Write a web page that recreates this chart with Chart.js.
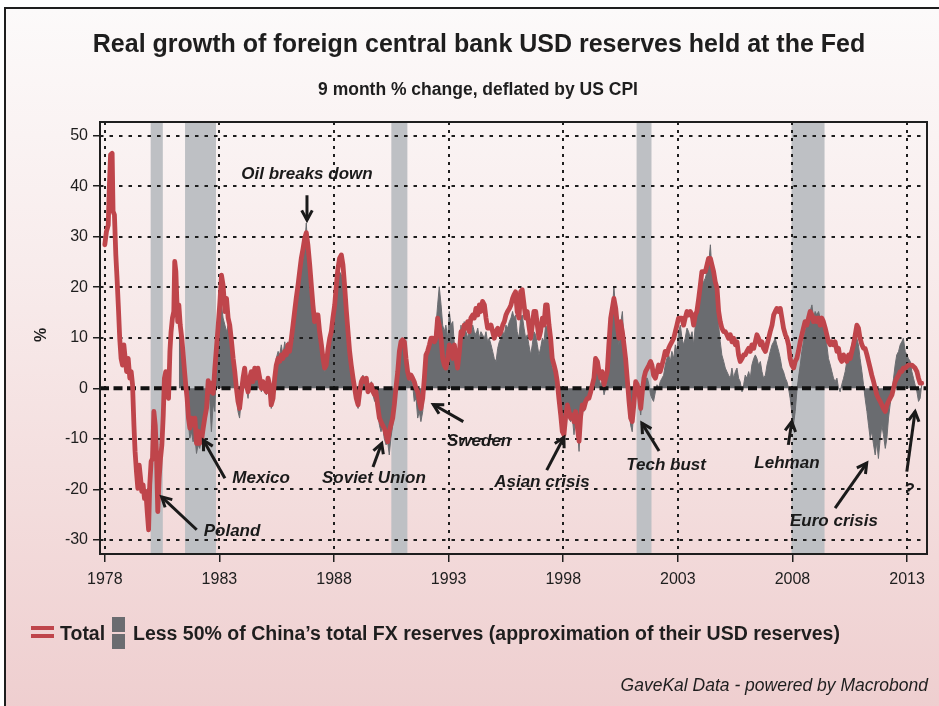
<!DOCTYPE html>
<html>
<head>
<meta charset="utf-8">
<script src="https://cdn.jsdelivr.net/npm/chart.js@4.4.1/dist/chart.umd.min.js"></script>
<style>
  html, body { margin: 0; padding: 0; background: #fff; }
  #page { position: relative; width: 939px; height: 706px; overflow: hidden; background: #fff;
          font-family: "Liberation Sans", Arial, sans-serif; color: #1e1e1e; }
  #frame { position: absolute; left: 4px; top: 7px; width: 960px; height: 720px;
           border: 2px solid #1e1e1e;
           background: linear-gradient(to bottom, #fcfafa 0%, #f8ecec 35%, #f3dcdc 70%, #eecdce 100%); }
  #c { position: absolute; left: 0; top: 0; }
  .txt { position: absolute; white-space: nowrap; }
  #title { left: 0; width: 958px; top: 29px; text-align: center; font-weight: bold; font-size: 25px; line-height: 29px; }
  #subtitle { left: 0; width: 956px; top: 79px; text-align: center; font-weight: bold; font-size: 17.5px; line-height: 20px; }
  #ylab { left: 34px; top: 326px; font-weight: bold; font-size: 16px; line-height: 18px; transform: rotate(-90deg); }
  .bar { position: absolute; }
  #legTotal { left: 60px; top: 622px; font-weight: bold; font-size: 19.5px; line-height: 22px; }
  #legEx { left: 133px; top: 622px; font-weight: bold; font-size: 19.5px; line-height: 22px; }
  #source { right: 11px; top: 675px; font-style: italic; font-size: 17.5px; line-height: 20px; }
</style>
</head>
<body>
<div id="page">
  <div id="frame"></div>
  <canvas id="c" width="939" height="706"></canvas>
  <div class="txt" id="title">Real growth of foreign central bank USD reserves held at the Fed</div>
  <div class="txt" id="subtitle">9 month % change, deflated by US CPI</div>
  <div class="txt" id="ylab">%</div>
  <div class="bar" style="left:31px;top:626px;width:23px;height:4px;background:#bf454b"></div>
  <div class="bar" style="left:31px;top:634px;width:23px;height:4px;background:#bf454b"></div>
  <div class="txt" id="legTotal">Total</div>
  <div class="bar" style="left:112px;top:617px;width:13px;height:15px;background:#6a6c70"></div>
  <div class="bar" style="left:112px;top:634px;width:13px;height:15px;background:#6a6c70"></div>
  <div class="txt" id="legEx">Less 50% of China’s total FX reserves (approximation of their USD reserves)</div>
  <div class="txt" id="source">GaveKal Data - powered by Macrobond</div>
</div>
<script>
// Observation dates (decimal years)
const dates = [
  1978.00,1978.07,1978.15,1978.19,1978.25,1978.32,1978.36,1978.42,1978.48,1978.54,
  1978.60,1978.65,1978.71,1978.77,1978.83,1978.89,1978.95,1979.02,1979.09,1979.15,
  1979.21,1979.27,1979.32,1979.38,1979.44,1979.50,1979.56,1979.61,1979.67,1979.73,
  1979.79,1979.85,1979.91,1979.96,1980.02,1980.08,1980.14,1980.20,1980.25,1980.31,
  1980.37,1980.43,1980.49,1980.55,1980.60,1980.66,1980.72,1980.78,1980.84,1980.89,
  1980.95,1981.01,1981.05,1981.10,1981.14,1981.18,
  1981.23,1981.29,1981.36,1981.42,1981.48,1981.53,1981.59,1981.65,1981.71,1981.78,
  1981.85,1981.93,1982.00,1982.07,1982.14,1982.22,1982.29,1982.36,1982.44,1982.51,
  1982.58,1982.65,1982.73,1982.80,1982.87,1982.94,1983.02,1983.09,1983.16,1983.24,
  1983.31,1983.38,1983.45,1983.53,1983.60,1983.67,1983.74,
  1983.81,1983.88,1983.96,1984.03,1984.10,1984.17,1984.25,1984.32,1984.39,1984.46,
  1984.54,1984.61,1984.68,1984.76,1984.83,1984.90,1984.97,1985.05,1985.12,1985.19,
  1985.26,1985.34,1985.41,1985.48,1985.56,1985.63,1985.70,1985.77,1985.85,1985.92,
  1985.99,1986.06,1986.14,1986.21,1986.28,1986.35,1986.43,1986.50,1986.57,1986.65,
  1986.72,1986.79,1986.86,1986.94,1987.01,1987.08,1987.15,1987.23,1987.30,1987.37,
  1987.45,1987.52,1987.59,1987.66,1987.74,1987.81,1987.88,1987.95,1988.03,1988.10,
  1988.17,1988.24,1988.32,1988.39,1988.46,1988.54,1988.61,1988.68,1988.75,1988.83,
  1988.90,1988.97,1989.05,1989.12,1989.19,1989.26,1989.34,1989.41,1989.48,1989.55,
  1989.63,1989.70,1989.77,
  1989.83,1989.90,1989.98,1990.05,1990.12,1990.19,1990.27,1990.34,1990.41,1990.48,
  1990.56,1990.63,1990.70,1990.78,1990.85,1990.92,1990.99,1991.07,1991.14,1991.21,
  1991.28,1991.36,1991.43,1991.50,1991.58,1991.65,1991.72,1991.79,1991.87,1991.94,
  1992.01,1992.08,1992.16,1992.23,1992.30,1992.38,1992.45,1992.52,1992.59,1992.67,
  1992.74,1992.81,1992.88,1992.96,1993.03,1993.10,1993.18,1993.25,1993.32,1993.39,
  1993.47,1993.54,1993.61,1993.68,1993.76,1993.83,1993.90,1993.97,1994.05,1994.12,
  1994.19,1994.27,1994.34,1994.41,1994.48,1994.56,1994.63,1994.70,1994.77,1994.85,
  1994.92,1994.99,1995.07,1995.14,1995.21,1995.28,1995.36,1995.43,1995.50,1995.57,
  1995.65,1995.72,1995.79,
  1995.85,1995.92,1995.99,1996.07,1996.14,1996.21,1996.29,1996.36,1996.43,1996.50,
  1996.58,1996.65,1996.72,1996.80,1996.87,1996.94,1997.01,1997.09,1997.16,1997.23,
  1997.30,1997.38,1997.45,1997.52,1997.60,1997.67,1997.74,1997.81,1997.89,1997.96,
  1998.03,1998.10,1998.18,1998.25,1998.32,1998.40,1998.47,1998.54,1998.61,1998.69,
  1998.76,1998.83,1998.90,1998.98,1999.05,1999.12,1999.20,1999.27,1999.34,1999.41,
  1999.49,1999.56,1999.63,1999.70,1999.78,1999.85,1999.92,1999.99,2000.07,2000.14,
  2000.21,2000.29,2000.36,2000.43,2000.50,2000.58,2000.65,2000.72,2000.79,2000.87,
  2000.94,2001.01,2001.08,2001.16,2001.23,2001.30,2001.38,2001.45,2001.52,2001.59,
  2001.67,2001.74,2001.81,
  2001.87,2001.94,2002.02,2002.09,2002.16,2002.23,2002.31,2002.38,2002.45,2002.52,
  2002.60,2002.67,2002.74,2002.82,2002.89,2002.96,2003.03,2003.11,2003.18,2003.25,
  2003.32,2003.40,2003.47,2003.54,2003.62,2003.69,2003.76,2003.83,2003.91,2003.98,
  2004.05,2004.12,2004.20,2004.27,2004.34,2004.42,2004.49,2004.56,2004.63,2004.71,
  2004.78,2004.85,2004.92,2005.00,2005.07,2005.14,2005.21,2005.29,2005.36,2005.43,
  2005.51,2005.58,2005.65,2005.72,2005.80,2005.87,2005.94,2006.01,2006.09,2006.16,
  2006.23,2006.31,2006.38,2006.45,2006.52,2006.60,2006.67,2006.74,2006.82,2006.89,
  2006.96,2007.03,2007.11,2007.18,2007.25,2007.32,2007.40,2007.47,2007.54,2007.61,
  2007.69,2007.76,2007.83,
  2007.90,2007.97,2008.05,2008.12,2008.19,2008.26,2008.34,2008.41,2008.48,2008.55,
  2008.63,2008.70,2008.77,2008.85,2008.92,2008.99,2009.06,2009.14,2009.21,2009.28,
  2009.35,2009.43,2009.50,2009.57,2009.65,2009.72,2009.79,2009.86,2009.94,2010.01,
  2010.08,2010.15,2010.23,2010.30,2010.37,2010.45,2010.52,2010.59,2010.66,2010.74,
  2010.81,2010.88,2010.95,2011.03,2011.10,2011.17,2011.25,2011.32,2011.39,2011.46,
  2011.54,2011.61,2011.68,2011.75,2011.83,2011.90,2011.97,2012.05,2012.12,2012.19,
  2012.26,2012.34,2012.41,2012.48,2012.55,2012.63,2012.70,2012.77,2012.84,2012.92,
  2012.99,2013.06,2013.14,2013.21,2013.28,2013.35,2013.43,2013.50,2013.57,2013.64
];

// Total foreign official USD holdings, real 9m % change
const total = [
  28.4,31.0,32.3,38.9,46.2,46.5,35.0,34.3,26.4,21.1,
  15.2,9.9,5.9,4.6,8.6,5.9,3.3,5.9,2.0,3.3,
  0.7,-7.3,-12.5,-16.5,-19.8,-15.2,-17.8,-20.4,-19.1,-21.8,
  -20.4,-24.4,-28.0,-19.1,-14.5,-13.9,-4.6,-7.3,-12.5,-24.4,
  -17.8,-13.9,-11.2,-5.3,2.0,3.3,-0.7,-2.0,7.3,11.2,
  13.9,15.2,25.1,23.1,17.8,13.2,
  16.5,12.5,9.9,6.6,3.3,0.7,-2.0,-5.9,-7.9,-5.9,
  -7.3,-5.9,-10.9,-8.5,-10.9,-10.3,-8.0,-5.9,-3.9,1.5,
  -0.7,1.0,-1.0,4.0,8.0,12.0,17.0,22.4,20.4,15.2,
  17.8,13.9,12.5,9.2,5.9,3.3,0.0,
  -2.6,-4.0,-0.7,2.0,4.0,0.7,-0.7,2.0,3.3,1.3,
  4.0,2.0,4.0,2.0,0.0,1.3,0.0,-0.7,2.0,0.7,
  -3.3,-2.0,2.0,4.6,5.9,5.3,6.6,5.9,7.3,6.6,
  8.6,7.3,9.9,12.5,15.2,17.8,20.4,23.1,25.7,27.7,
  29.7,30.8,28.4,24.4,20.4,16.5,13.2,14.5,14.5,11.2,
  8.6,5.9,4.0,4.6,7.9,9.9,11.2,13.9,16.5,20.4,
  23.7,25.7,26.4,24.4,20.4,15.2,11.2,7.3,4.6,2.0,
  0.0,-2.0,-3.3,-0.7,1.3,2.0,1.3,2.0,-0.7,0.0,
  0.7,-0.7,-1.3,
  -0.7,-3.3,-5.9,-6.6,-7.3,-7.9,-9.2,-10.6,-8.6,-7.3,
  -5.9,-3.3,0.0,3.3,7.3,9.2,9.6,9.2,5.9,3.3,
  2.0,2.6,2.0,1.3,0.0,-0.7,-2.6,-4.0,-2.0,2.0,
  6.6,7.3,8.6,9.9,9.9,9.2,9.9,13.9,12.5,9.9,
  5.9,4.6,4.0,5.9,8.6,7.3,5.9,8.6,5.9,4.0,
  7.3,11.2,10.6,12.5,11.9,13.2,11.2,13.9,14.5,13.9,
  15.8,14.5,16.5,15.2,17.2,16.5,13.9,11.9,11.9,12.5,
  11.2,9.9,11.2,11.9,10.6,11.2,12.5,13.2,14.5,15.2,
  15.8,16.5,17.8,
  18.5,19.1,15.2,13.9,19.1,19.5,16.5,13.9,15.2,12.5,
  9.9,12.5,15.2,15.2,12.5,9.9,11.2,13.9,12.5,16.5,
  16.5,12.5,9.9,5.9,4.6,3.3,1.3,-2.0,-5.3,-8.6,
  -9.2,-5.9,-3.3,-4.6,-5.9,-5.3,-6.6,-4.6,-7.5,-10.5,
  -5.5,-3.3,-4.0,-2.6,-2.0,-2.0,-0.7,0.7,2.0,5.9,
  5.3,3.3,2.0,3.3,0.7,2.0,3.3,8.6,13.9,15.8,
  17.8,15.8,12.5,9.9,13.2,11.2,8.6,5.9,2.0,-2.6,
  -5.9,-6.6,-3.3,1.3,0.7,-0.7,-4.0,-0.7,2.0,3.3,
  4.0,4.6,5.3,
  4.6,2.6,2.0,3.3,4.6,3.3,4.6,5.9,7.3,6.6,
  7.9,8.6,9.2,9.9,11.2,12.5,13.9,13.9,13.9,12.5,
  13.9,15.2,14.5,15.2,14.5,12.5,14.5,15.2,17.8,20.4,
  23.1,23.1,23.1,24.4,25.7,25.7,24.4,23.1,21.1,19.8,
  15.2,13.2,11.9,11.2,11.2,10.6,9.9,10.6,9.2,9.9,
  8.6,9.2,6.6,5.3,5.9,6.6,6.6,7.3,7.9,7.3,
  8.6,7.9,9.2,10.6,9.9,8.6,9.2,7.9,7.3,8.6,
  9.9,11.2,12.5,14.5,15.2,15.8,15.2,15.8,13.9,11.9,
  10.6,9.9,8.6,
  5.9,4.6,4.0,5.3,5.9,7.3,9.2,10.6,11.9,13.2,
  12.5,13.9,15.2,14.5,13.2,13.9,13.2,13.9,12.5,13.9,
  13.2,11.9,10.6,9.2,8.6,9.2,8.6,9.2,7.3,7.9,
  5.9,5.3,6.6,5.9,5.3,6.6,5.9,7.3,8.6,10.6,
  12.5,11.9,9.9,8.6,7.9,7.9,6.6,5.3,4.0,2.6,
  1.3,0.0,-1.3,-2.0,-2.6,-3.3,-4.0,-4.6,-3.3,-2.6,
  -2.0,-1.3,0.0,1.3,2.0,2.6,3.3,3.3,4.0,4.0,
  4.3,4.6,4.6,4.6,4.3,4.0,3.3,2.0,1.0,1.0
];

// Total less 50% of China's FX reserves; series begins at this date
const exChinaFirstDate = 1981.23;
const exChina = [
  16.0,14.5,11.2,6.6,2.0,-0.7,-4.6,-7.3,-9.9,-8.6,
  -10.6,-9.5,-12.9,-11.2,-11.9,-9.9,-7.3,-5.9,-3.3,-0.7,
  -2.5,-8.6,-3.0,-4.6,5.9,9.9,15.2,16.5,13.9,12.5,
  11.2,12.5,9.9,7.3,4.6,2.0,-0.7,
  -4.6,-5.9,-2.0,1.3,3.3,0.0,-2.0,1.3,2.6,0.7,
  3.3,1.3,3.3,1.3,-0.7,0.7,-0.7,-1.3,1.3,0.0,
  -4.0,-2.6,2.6,5.9,7.3,6.6,8.6,6.6,9.2,7.3,
  9.2,7.3,8.6,9.9,12.5,15.2,17.8,20.4,23.1,25.7,
  28.4,32.7,27.0,21.8,17.8,13.9,12.5,13.9,13.2,9.9,
  7.3,4.6,3.3,4.0,6.6,8.6,9.9,12.5,15.2,19.1,
  21.8,23.1,22.4,21.1,17.8,13.9,9.9,5.9,3.3,1.3,
  -0.7,-2.6,-4.0,-1.3,0.7,2.6,0.7,2.0,-0.7,0.0,
  1.3,-1.3,-2.6,
  -0.7,-4.6,-7.3,-8.6,-7.3,-9.9,-11.2,-10.6,-13.2,-9.9,
  -7.3,-4.6,-0.7,3.3,6.6,8.6,9.2,8.6,5.3,2.6,
  1.3,2.0,0.7,-2.6,-2.0,-5.9,-4.6,-6.6,-4.6,2.0,
  5.9,7.3,7.3,8.6,9.2,9.9,12.5,16.5,20.1,16.5,
  12.5,11.2,12.5,9.9,15.2,12.5,13.2,8.6,5.9,4.6,
  8.6,12.5,9.9,13.2,11.2,9.9,11.9,10.6,12.5,11.2,
  10.6,11.9,9.9,11.2,10.6,9.9,11.2,9.2,9.9,8.6,
  7.3,5.9,5.3,7.9,9.2,9.9,11.2,10.6,12.5,11.9,
  13.2,13.9,15.2,
  13.9,14.5,11.2,9.9,13.9,14.5,11.9,9.9,10.6,8.6,
  6.6,8.6,11.2,10.6,8.6,6.6,7.9,9.9,9.2,12.5,
  11.9,9.2,6.6,4.0,3.3,2.0,0.0,-2.6,-5.9,-8.6,
  -9.9,-7.3,-4.6,-5.9,-6.6,-5.9,-9.2,-5.9,-7.3,-12.5,
  -5.9,-4.0,-4.6,-3.3,-2.6,-2.0,-1.3,0.0,1.3,4.6,
  4.0,2.0,0.7,1.3,-1.3,0.0,2.0,7.3,12.5,15.2,
  20.1,15.2,11.2,8.6,12.5,15.2,9.2,5.9,0.0,-4.0,
  -7.3,-8.6,-4.6,0.0,-0.7,-2.6,-5.3,-2.0,0.7,2.0,
  2.0,0.7,-1.3,
  -2.0,-2.6,-0.7,0.7,0.0,1.3,2.0,2.6,4.6,5.9,
  6.6,5.3,7.3,5.9,8.6,7.3,11.2,12.5,9.9,8.6,
  9.9,11.9,11.2,9.9,11.2,8.6,12.5,14.5,16.5,18.5,
  20.4,21.1,21.8,23.1,24.4,28.4,23.1,21.8,19.8,16.5,
  12.5,9.2,6.6,5.3,4.0,3.3,2.6,2.0,4.0,2.0,
  3.3,4.0,2.0,1.3,-0.7,0.7,2.6,2.0,3.3,2.0,
  4.6,5.9,6.6,5.9,4.6,5.3,3.3,2.0,2.6,4.6,
  5.9,7.3,8.6,9.2,9.9,8.6,7.3,5.9,4.0,3.3,
  2.0,1.3,0.0,
  -2.0,-4.6,-7.0,-4.6,-0.7,2.0,4.6,7.3,9.2,11.2,
  12.5,13.9,15.2,16.5,13.9,15.2,14.5,15.2,13.9,12.5,
  13.2,11.2,8.6,5.9,4.6,3.3,2.0,1.3,2.0,0.0,
  -0.7,0.7,2.0,3.3,5.3,6.6,7.3,8.6,9.9,11.2,
  9.9,8.6,5.9,3.3,0.7,-2.0,-4.6,-7.3,-9.9,-8.6,
  -11.2,-13.2,-10.6,-13.9,-9.9,-7.3,-9.2,-11.9,-9.9,-5.9,
  -3.3,-0.7,2.0,4.6,6.6,7.3,8.6,9.2,9.9,7.3,
  6.6,5.9,5.3,3.3,2.0,0.7,-0.7,-2.6,-2.0,0.7
];

// Axis ticks
const yearTicks = [1978, 1983, 1988, 1993, 1998, 2003, 2008, 2013];
const valueTicks = [-30, -20, -10, 0, 10, 20, 30, 40, 50];

// US recessions (start, end)
const recessionStarts = [1980.00, 1981.50, 1990.50, 2001.20, 2007.96];
const recessionEnds   = [1980.53, 1982.85, 1991.20, 2001.85, 2009.40];

// Event call-outs: label anchor, arrow tail and arrow tip in data units [year, %]
const events = [
  { text: 'Oil breaks down', label: [1986.82, 42.4],  tail: [1986.82, 38.2],  tip: [1986.82, 33.3] },
  { text: 'Mexico',          label: [1984.82, -17.9], tail: [1983.24, -17.8], tip: [1982.30, -10.3] },
  { text: 'Poland',          label: [1983.55, -28.4], tail: [1982.01, -28.0], tip: [1980.48, -21.5] },
  { text: 'Soviet Union',    label: [1989.74, -17.9], tail: [1989.70, -15.6], tip: [1990.08, -10.9] },
  { text: 'Sweden',          label: [1994.33, -10.4], tail: [1993.64, -6.6],  tip: [1992.33, -3.2] },
  { text: 'Asian crisis',    label: [1997.07, -18.7], tail: [1997.28, -16.2], tip: [1998.03, -9.7] },
  { text: 'Tech bust',       label: [2002.49, -15.2], tail: [2002.18, -12.4], tip: [2001.43, -6.9] },
  { text: 'Lehman',          label: [2007.76, -14.8], tail: [2007.82, -11.2], tip: [2007.97, -6.6] },
  { text: 'Euro crisis',     label: [2009.81, -26.3], tail: [2009.86, -23.7], tip: [2011.24, -14.8] },
  { text: '?',               label: [2013.09, -20.1], tail: [2012.99, -16.5], tip: [2013.35, -4.6] }
];

const RED = '#bf454b';
const GREY = '#6a6c70';
const BAND = '#bec0c4';
const INK = '#1e1e1e';
const FONT = '"Liberation Sans", Arial, sans-serif';

const totalPoints = dates.map((d, i) => ({ x: d, y: total[i] }));
const exStart = dates.indexOf(exChinaFirstDate);
const exChinaPoints = exChina.map((v, i) => ({ x: dates[exStart + i], y: v }));

function drawArrow(ctx, x0, y0, x1, y1) {
  ctx.beginPath();
  ctx.moveTo(x0, y0);
  ctx.lineTo(x1, y1);
  ctx.stroke();
  const a = Math.atan2(y1 - y0, x1 - x0);
  const len = 11, spread = 0.5;
  ctx.beginPath();
  ctx.moveTo(x1 - len * Math.cos(a - spread), y1 - len * Math.sin(a - spread));
  ctx.lineTo(x1, y1);
  ctx.lineTo(x1 - len * Math.cos(a + spread), y1 - len * Math.sin(a + spread));
  ctx.stroke();
}

const decorations = {
  id: 'decorations',
  beforeDraw(chart) {
    // recession shading
    const { ctx, chartArea: a, scales: { x } } = chart;
    ctx.save();
    ctx.fillStyle = BAND;
    recessionStarts.forEach((s, i) => {
      const x0 = x.getPixelForValue(s), x1 = x.getPixelForValue(recessionEnds[i]);
      ctx.fillRect(x0, a.top, x1 - x0, a.bottom - a.top);
    });
    ctx.restore();
  },
  beforeDatasetDraw(chart, args) {
    if (args.index !== 0) return;
    // dotted grid and dashed zero line sit above the grey area, below the red line
    const { ctx, chartArea: a, scales: { x, y } } = chart;
    ctx.save();
    ctx.strokeStyle = INK;
    ctx.lineWidth = 2;
    ctx.setLineDash([3.5, 6]);
    valueTicks.forEach(v => {
      if (v === 0) return;
      const py = Math.round(y.getPixelForValue(v));
      ctx.beginPath(); ctx.moveTo(a.left, py); ctx.lineTo(a.right, py); ctx.stroke();
    });
    ctx.setLineDash([3, 5]);
    yearTicks.forEach(t => {
      const px = Math.round(x.getPixelForValue(t));
      ctx.beginPath(); ctx.moveTo(px, a.top); ctx.lineTo(px, a.bottom); ctx.stroke();
    });
    ctx.strokeStyle = '#111';
    ctx.lineWidth = 4;
    ctx.setLineDash([9, 4.5]);
    const z = y.getPixelForValue(0);
    ctx.beginPath(); ctx.moveTo(a.left, z); ctx.lineTo(a.right, z); ctx.stroke();
    ctx.restore();
  },
  afterDraw(chart) {
    const { ctx, chartArea: a, scales: { x, y } } = chart;
    ctx.save();
    // plot frame
    ctx.strokeStyle = INK;
    ctx.lineWidth = 2;
    ctx.strokeRect(a.left, a.top, a.right - a.left, a.bottom - a.top);
    // call-outs
    ctx.lineWidth = 3;
    ctx.strokeStyle = '#1a1a1a';
    ctx.fillStyle = '#1a1a1a';
    ctx.font = 'italic bold 17px ' + FONT;
    ctx.textAlign = 'center';
    ctx.textBaseline = 'middle';
    events.forEach(e => {
      drawArrow(ctx,
        x.getPixelForValue(e.tail[0]), y.getPixelForValue(e.tail[1]),
        x.getPixelForValue(e.tip[0]), y.getPixelForValue(e.tip[1]));
      ctx.fillText(e.text, x.getPixelForValue(e.label[0]), y.getPixelForValue(e.label[1]));
    });
    ctx.restore();
  }
};

new Chart(document.getElementById('c'), {
  type: 'line',
  data: {
    datasets: [
      {
        label: 'Total',
        data: totalPoints,
        borderColor: RED,
        borderWidth: 4.8,
        pointRadius: 0,
        fill: false,
        tension: 0,
        borderJoinStyle: 'round',
        borderCapStyle: 'round',
        order: 0
      },
      {
        label: 'Less 50% of China’s total FX reserves (approximation of their USD reserves)',
        data: exChinaPoints,
        borderColor: GREY,
        backgroundColor: GREY,
        borderWidth: 1,
        pointRadius: 0,
        fill: 'origin',
        tension: 0,
        order: 1
      }
    ]
  },
  options: {
    responsive: false,
    devicePixelRatio: 1,
    animation: false,
    events: [],
    layout: { padding: { left: 0, top: 122, right: 12, bottom: 112 } },
    plugins: { legend: { display: false }, tooltip: { enabled: false }, title: { display: false } },
    scales: {
      x: {
        type: 'linear',
        min: 1977.79,
        max: 2013.87,
        afterBuildTicks: s => { s.ticks = yearTicks.map(v => ({ value: v })); },
        afterFit: s => { s.height = 40; },
        border: { display: false },
        grid: { drawOnChartArea: false, drawTicks: true, tickLength: 8, color: INK, lineWidth: 1.5 },
        ticks: {
          autoSkip: false, maxRotation: 0, padding: 8, color: INK,
          font: { family: FONT, size: 16 },
          callback: v => String(v)
        }
      },
      y: {
        min: -32.8,
        max: 52.7,
        afterBuildTicks: s => { s.ticks = valueTicks.map(v => ({ value: v })); },
        afterFit: s => { s.width = 100; },
        border: { display: false },
        grid: { drawOnChartArea: false, drawTicks: true, tickLength: 7, color: INK, lineWidth: 1.5 },
        ticks: {
          padding: 5, color: INK,
          font: { family: FONT, size: 16 },
          callback: v => String(v)
        }
      }
    }
  },
  plugins: [decorations]
});
</script>
</body>
</html>
